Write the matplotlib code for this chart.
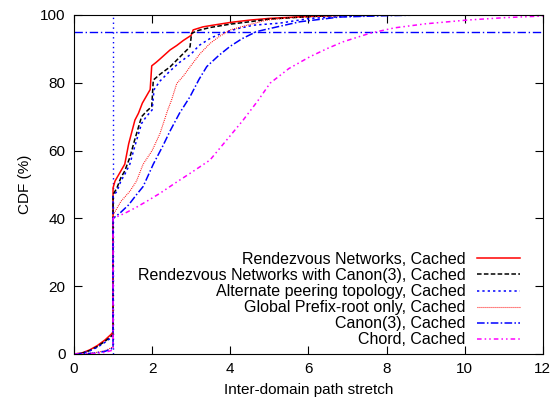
import matplotlib
matplotlib.use("Agg")
import matplotlib.pyplot as plt

plt.rcParams['font.family'] = ['Liberation Sans', 'DejaVu Sans']

# Rendezvous Networks, Cached
rn_x = [0, 0.2, 0.4, 0.6, 0.8, 0.95, 1.0, 1.0, 1.05, 1.15, 1.3, 1.4, 1.56, 1.65, 1.75, 1.85,
        1.95, 1.99, 2.1, 2.2, 2.46, 2.63, 2.8, 3.0, 3.05, 3.3, 3.56, 4.0, 4.5, 5.0, 6.0, 7.0, 12]
rn_y = [0, 0.3, 1.2, 2.5, 4.2, 5.8, 6.5, 49, 51, 53, 56, 62, 69, 71, 74, 76,
        78, 85, 86, 87, 89.7, 91, 92.5, 94, 95.6, 96.5, 97, 97.8, 98.5, 99, 99.6, 100, 100]

# Rendezvous Networks with Canon(3), Cached
rnc_x = [0, 0.2, 0.4, 0.6, 0.8, 0.95, 1.0, 1.0, 1.1, 1.2, 1.3, 1.43, 1.55, 1.73, 1.85, 1.99,
         2.03, 2.2, 2.46, 2.7, 2.97, 3.01, 3.2, 3.48, 4.0, 4.5, 5.0, 6.0, 7.0, 12]
rnc_y = [0, 0.2, 1.0, 2.2, 3.8, 5.2, 5.8, 47, 49, 52, 54, 58, 63, 70, 71.5, 73,
         80.8, 82.5, 84.7, 87.5, 90.6, 94.6, 95.5, 96.3, 97.3, 98, 98.8, 99.5, 100, 100]

# Alternate peering topology, Cached
alt_x = [0, 0.2, 0.4, 0.6, 0.8, 0.95, 1.0, 1.0, 1.1, 1.2, 1.3, 1.43, 1.55, 1.73, 1.85, 2.0,
         2.05, 2.2, 2.46, 2.7, 3.0, 3.2, 3.5, 3.8, 4.2, 4.6, 5.27, 6.04, 7.0, 8.0, 12]
alt_y = [0, 0.2, 0.9, 2.0, 3.5, 4.8, 5.3, 46.5, 48, 51, 53, 56, 61, 68, 70, 72,
         78, 80.5, 83.5, 86, 88.5, 91, 93.2, 94.7, 96, 97, 97.6, 99, 99.6, 100, 100]

# Global Prefix-root only, Cached
gpr_x = [0, 0.5, 0.8, 0.95, 1.0, 1.0, 1.1, 1.2, 1.43, 1.6, 1.77, 2.0, 2.2, 2.4, 2.5,
         2.63, 2.8, 2.97, 3.22, 3.48, 3.7, 4.0, 4.5, 4.93, 5.5, 6.5, 7.5, 12]
gpr_y = [0, 0.3, 1.0, 1.8, 2.2, 41, 43, 45, 48, 51, 56, 60, 65, 72, 75,
         79.8, 82, 84.7, 88.5, 91.6, 93.5, 95.6, 97.2, 98.5, 99.2, 99.7, 100, 100]

# Canon(3), Cached
can_x = [0, 0.5, 0.8, 0.95, 1.0, 1.0, 1.18, 1.4, 1.6, 1.77, 2.03, 2.28, 2.46, 2.7, 2.97, 3.2,
         3.4, 3.7, 3.99, 4.3, 4.67, 5.2, 5.78, 6.8, 8.0, 9.0, 12]
can_y = [0, 0.2, 0.8, 1.5, 1.8, 40, 41.6, 44, 47, 49.4, 56, 61.5, 65.8, 71, 75.9, 81,
         84.8, 88, 90.7, 93, 95.1, 96.5, 98, 99.4, 99.8, 100, 100]

# Chord, Cached
chord_x = [0, 0.5, 0.8, 0.95, 1.0, 1.0, 1.3, 1.6, 1.9, 2.2, 2.6, 3.0, 3.48, 4.0, 4.33, 4.7,
           5.02, 5.5, 6.04, 6.5, 6.89, 7.57, 8.2, 9.0, 10.06, 11.0, 12]
chord_y = [0, 0.1, 0.5, 1.0, 1.2, 40, 41.5, 43.3, 45.3, 47.4, 50.5, 53.5, 57.2, 64.4, 69, 74.6,
           79.9, 84.2, 87.7, 90.2, 92.1, 94.6, 96.2, 97.4, 98.5, 99.2, 99.7]

fig = plt.figure(figsize=(5.5, 4.03), dpi=100)
ax = fig.add_axes([0.1345, 0.1216, 0.8525, 0.8412])

# reference lines
ax.axvline(1, color='#0000ff', lw=1, ls=(0, (1, 2.5)))
ax.axhline(95, color='#0000ff', lw=1, ls=(0, (6, 2, 1, 2)))

ax.plot(rn_x, rn_y, color='#ff0000', lw=1.1, label='Rendezvous Networks, Cached')
ax.plot(rnc_x, rnc_y, color='black', lw=1.1, ls=(0, (3, 1.5)),
        label='Rendezvous Networks with Canon(3), Cached')
ax.plot(alt_x, alt_y, color='#0000ff', lw=1.1, ls=(0, (1.5, 2)),
        label='Alternate peering topology, Cached')
ax.plot(gpr_x, gpr_y, color='#ff0000', lw=0.8, ls=(0, (0.8, 1)),
        label='Global Prefix-root only, Cached')
ax.plot(can_x, can_y, color='#0000ff', lw=1.1, ls=(0, (5, 1.5, 1, 1.5)),
        label='Canon(3), Cached')
ax.plot(chord_x, chord_y, color='#ff00ff', lw=1.1, ls=(0, (3, 2, 1, 2, 1, 2)),
        label='Chord, Cached')

ax.set_xlim(0, 12)
ax.set_ylim(0, 100)
ax.set_xticks(range(0, 13, 2))
ax.set_yticks(range(0, 101, 20))
ax.tick_params(direction='in', length=6, top=True, right=True, labelsize=11, pad=6)
ax.set_xlabel('Inter-domain path stretch', fontsize=11, labelpad=5)
ax.set_ylabel('CDF (%)', fontsize=11, labelpad=6)

ax.legend(loc='lower right', bbox_to_anchor=(0.972, -0.009), frameon=False,
          markerfirst=False, fontsize=11.5, handlelength=2.7, labelspacing=0.07,
          borderaxespad=0.3, borderpad=0.3, handletextpad=0.7)

fig.savefig('out.png', dpi=100)
